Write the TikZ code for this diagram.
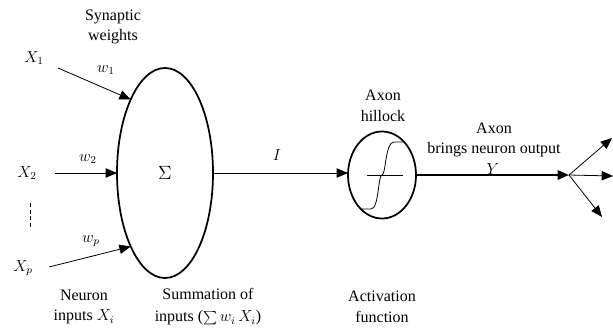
\documentclass[tikz,border=0pt]{standalone}
\usepackage{fontspec}
\setmainfont{Liberation Serif}
\usetikzlibrary{shapes.geometric,arrows.meta}
\begin{document}
\begin{tikzpicture}[x=0.75pt,y=-0.75pt,
  txt/.style={font=\fontsize{12}{15.5}\selectfont, align=center, inner sep=0pt},
  lbl/.style={font=\fontsize{12}{14}\selectfont, inner sep=0pt},
  body/.style={ellipse, draw, line width=1.3pt, inner sep=0pt, outer sep=0pt},
  thin/.style={line width=0.6pt, -{Triangle[length=8.5pt,width=7pt]}},
  thick/.style={line width=1.4pt, -{Triangle[length=8.5pt,width=7pt]}}]
\useasboundingbox (0,0) rectangle (613,328);

% bodies
\node[body, minimum width=72pt, minimum height=157.5pt, font=\fontsize{14}{16}\selectfont] (sum) at (165,173) {$\Sigma$};
\node[body, minimum width=51pt, minimum height=65.25pt] (act) at (382,175) {};

% activation symbol
\coordinate (hl) at (367,175);
\coordinate (hr) at (403,175);
\draw[line width=0.6pt] (hl) -- (hr);
\draw[line width=0.6pt] (362,209) -- (371,209) .. controls (379,209) and (378,175) .. (382,175) .. controls (386,175) and (385,142) .. (394,142) -- (405,142);

% inputs
\coordinate (s1) at (58,68);
\coordinate (s2) at (55,173);
\coordinate (sp) at (49,267);
\draw[thin] (s1) -- (sum.115);
\draw[thin] (s2) -- (sum.west);
\draw[thin] (sp) -- (sum.245);
\coordinate (d1) at (30,203);
\coordinate (d2) at (30,227);
\draw[line width=0.6pt, dash pattern=on 3pt off 2pt] (d1) -- (d2);

% labels of inputs
\node[lbl] (x1) at (34,58) {$X_1$};
\node[lbl] (x2) at (27,173) {$X_2$};
\node[lbl] (xp) at (23,268) {$X_p$};
\node[lbl] (w1) at (106,70) {$w_1$};
\node[lbl] (w2) at (88,159) {$w_2$};
\node[lbl] (wp) at (91,241) {$w_p$};

% I
\draw[thin] (sum.east) -- (sum.east -| act.west);
\node[lbl] (ilab) at (277,155) {$I$};

% output
\coordinate (br) at (569,175);
\draw[thick] (act.east) -- (br);
\node[lbl] (ylab) at (493,169) {$Y$};
\coordinate (o1) at (612,138);
\coordinate (o2) at (613,176);
\coordinate (o3) at (602,217);
\draw[thin] (br) -- (o1);
\draw[thin] (br) -- (o2);
\draw[thin] (br) -- (o3);

% texts
\node[txt] (syn) at (113,27) {Synaptic\\weights};
\node[txt] (hill) at (383,106) {Axon\\hillock};
\node[txt] (axon) at (494,140) {Axon\\brings neuron output};
\node[txt] (nin) at (84,307) {Neuron\\inputs $X_i$};
\node[txt] (summ) at (208,307) {Summation of\\[1pt]inputs ($\sum w_i\,X_i$)};
\node[txt] (actf) at (382,307) {Activation\\function};
\end{tikzpicture}
\end{document}
